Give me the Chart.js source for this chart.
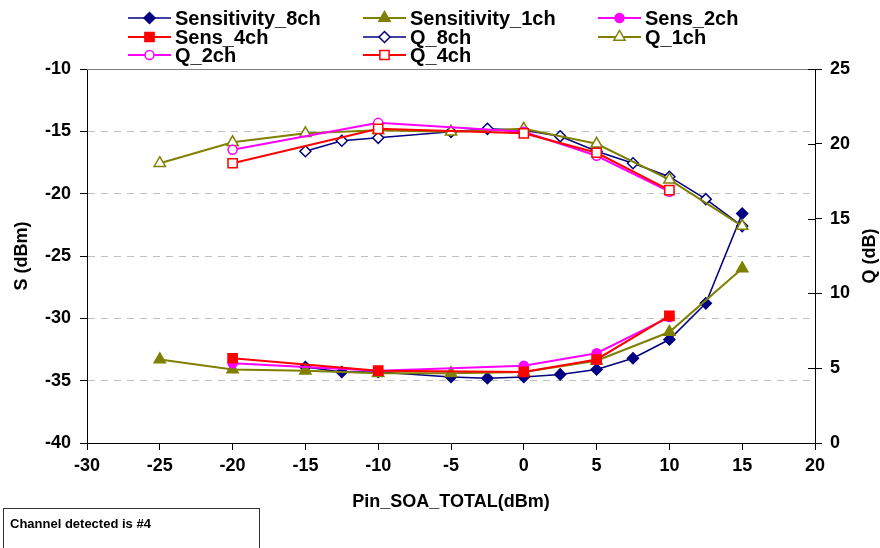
<!DOCTYPE html>
<html>
<head>
<meta charset="utf-8">
<script src="https://cdn.jsdelivr.net/npm/chart.js@4/dist/chart.umd.min.js"></script>
<style>
body { margin: 0; background: #fff; }
#wrap { position: relative; width: 880px; height: 548px; overflow: hidden; }
#note {
  position: absolute; left: 3px; top: 508px; width: 257px; height: 50px;
  border: 1px solid #333; box-sizing: border-box; padding: 7px 0 0 6px;
  font: bold 13px "Liberation Sans", Arial, sans-serif; line-height: 15px;
}
</style>
</head>
<body>
<div id="wrap">
  <canvas id="chart" width="880" height="548"></canvas>
  <div id="note">Channel detected is #4</div>
</div>
<script>
// values
var x8ch = [-15, -12.5, -10, -5, -2.5, 0, 2.5, 5, 7.5, 10, 12.5, 15];
var x1ch = [-25, -20, -15, -10, -5, 0, 5, 10, 15];
var x2ch = [-20, -10, 0, 5, 10];
var x4ch = [-20, -10, 0, 5, 10];

var sens8ch = [-33.9, -34.3, -34.3, -34.7, -34.8, -34.7, -34.5, -34.1, -33.2, -31.7, -28.8, -21.6];
var sens1ch = [-33.3, -34.1, -34.2, -34.4, -34.4, -34.3, -33.4, -31.1, -26.0];
var sens2ch = [-33.6, -34.2, -33.8, -32.8, -29.9];
var sens4ch = [-33.2, -34.2, -34.3, -33.3, -29.8];

var q8ch = [19.5, 20.2, 20.4, 20.8, 21.0, 20.9, 20.5, 19.5, 18.7, 17.8, 16.3, 14.5];
var q1ch = [18.7, 20.1, 20.7, 20.9, 20.8, 21.0, 20.0, 17.6, 14.5];
var q2ch = [19.6, 21.4, 20.8, 19.2, 16.8];
var q4ch = [18.7, 21.0, 20.7, 19.4, 16.9];

var xTicks = [-30, -25, -20, -15, -10, -5, 0, 5, 10, 15, 20];
var sTicks = [-40, -35, -30, -25, -20, -15, -10];
var qTicks = [0, 5, 10, 15, 20, 25];

var FONT = '"Liberation Sans", Arial, sans-serif';
var NAVY = '#000080', OLIVE = '#808000', MAGENTA = '#FF00FF', RED = '#FF0000';

function series(label, xs, ys, axis, color, style, filled, radius, width, order) {
  return {
    label: label,
    data: xs.map(function(x, i) { return {x: x, y: ys[i]}; }),
    yAxisID: axis,
    borderColor: color,
    backgroundColor: filled ? color : '#fff',
    borderWidth: width,
    pointStyle: style,
    pointRadius: radius,
    pointBorderWidth: 1.5,
    pointBorderColor: color,
    pointBackgroundColor: filled ? color : '#fff',
    tension: 0,
    fill: false,
    order: order
  };
}

var datasets = [
  series('Sensitivity_8ch', x8ch, sens8ch, 'yS', NAVY, 'rectRot', true, 5.5, 1.5, 8),
  series('Sensitivity_1ch', x1ch, sens1ch, 'yS', OLIVE, 'triangle', true, 6.5, 2, 7),
  series('Sens_2ch', x2ch, sens2ch, 'yS', MAGENTA, 'circle', true, 4.5, 2, 6),
  series('Sens_4ch', x4ch, sens4ch, 'yS', RED, 'rect', true, 6.5, 2, 5),
  series('Q_8ch', x8ch, q8ch, 'yQ', NAVY, 'rectRot', false, 5.5, 1.5, 4),
  series('Q_1ch', x1ch, q1ch, 'yQ', OLIVE, 'triangle', false, 6.5, 2, 3),
  series('Q_2ch', x2ch, q2ch, 'yQ', MAGENTA, 'circle', false, 4.5, 2, 2),
  series('Q_4ch', x4ch, q4ch, 'yQ', RED, 'rect', false, 6.5, 2, 1)
];

function marker(ctx, style, x, y, r) {
  ctx.beginPath();
  if (style === 'rectRot') {
    ctx.moveTo(x, y - r); ctx.lineTo(x + r, y); ctx.lineTo(x, y + r); ctx.lineTo(x - r, y);
  } else if (style === 'triangle') {
    ctx.moveTo(x, y - r);
    ctx.lineTo(x + r * 0.866, y + r * 0.5);
    ctx.lineTo(x - r * 0.866, y + r * 0.5);
  } else if (style === 'rect') {
    var s = r * Math.SQRT1_2;
    ctx.rect(x - s, y - s, 2 * s, 2 * s);
  } else {
    ctx.arc(x, y, r, 0, Math.PI * 2);
  }
  ctx.closePath();
  ctx.fill();
  ctx.stroke();
}

var legendCols = [128, 363, 598];
var legendRows = [18, 37, 55];

var extras = {
  id: 'extras',
  beforeDatasetsDraw: function(chart) {
    var ctx = chart.ctx, a = chart.chartArea;
    ctx.save();
    ctx.strokeStyle = '#808080';
    ctx.lineWidth = 1;
    ctx.beginPath();
    ctx.moveTo(a.left, a.top + 0.5);
    ctx.lineTo(a.right, a.top + 0.5);
    ctx.stroke();
    // right axis ticks cross the axis line
    ctx.strokeStyle = '#000';
    qTicks.forEach(function(v) {
      var y = Math.round(chart.scales.yQ.getPixelForValue(v)) + 0.5;
      ctx.beginPath();
      ctx.moveTo(a.right - 7, y);
      ctx.lineTo(a.right, y);
      ctx.stroke();
    });
    ctx.restore();
  },
  afterDraw: function(chart) {
    var ctx = chart.ctx, a = chart.chartArea;
    ctx.save();
    // legend
    chart.data.datasets.forEach(function(ds, i) {
      var x = legendCols[i % 3], y = legendRows[Math.floor(i / 3)];
      ctx.strokeStyle = ds.borderColor;
      ctx.lineWidth = ds.borderWidth;
      ctx.beginPath();
      ctx.moveTo(x, y);
      ctx.lineTo(x + 43, y);
      ctx.stroke();
      ctx.fillStyle = ds.pointBackgroundColor;
      ctx.lineWidth = 1.5;
      marker(ctx, ds.pointStyle, x + 21.5, y, ds.pointRadius);
      ctx.fillStyle = '#000';
      ctx.font = 'bold 20px ' + FONT;
      ctx.textBaseline = 'middle';
      ctx.textAlign = 'left';
      ctx.fillText(ds.label, x + 47, y + 1);
    });
    // right axis title, reads bottom to top
    ctx.translate(870, (a.top + a.bottom) / 2);
    ctx.rotate(-Math.PI / 2);
    ctx.font = 'bold 18px ' + FONT;
    ctx.textAlign = 'center';
    ctx.textBaseline = 'middle';
    ctx.fillStyle = '#000';
    ctx.fillText('Q (dB)', 0, 0);
    ctx.restore();
  }
};

new Chart(document.getElementById('chart'), {
  type: 'line',
  data: { datasets: datasets },
  plugins: [extras],
  options: {
    responsive: false,
    animation: false,
    devicePixelRatio: 1,
    layout: { padding: { top: 69, left: 0, right: 0, bottom: 0 } },
    plugins: { legend: { display: false }, tooltip: { enabled: false } },
    scales: {
      x: {
        type: 'linear',
        min: -30, max: 20,
        afterFit: function(s) { s.height = 105; },
        afterBuildTicks: function(s) { s.ticks = xTicks.map(function(v) { return {value: v}; }); },
        ticks: { color: '#000', font: { family: FONT, size: 18, weight: 'bold' }, padding: 5, maxRotation: 0 },
        grid: { drawOnChartArea: false, tickLength: 7, tickColor: '#000' },
        border: { color: '#000', width: 1 },
        title: { display: true, text: 'Pin_SOA_TOTAL(dBm)', color: '#000',
                 font: { family: FONT, size: 18, weight: 'bold' }, padding: { top: 0, bottom: 35 } }
      },
      yS: {
        position: 'left',
        min: -40, max: -10,
        afterFit: function(s) { s.width = 87; },
        afterBuildTicks: function(s) { s.ticks = sTicks.map(function(v) { return {value: v}; }); },
        ticks: { color: '#000', font: { family: FONT, size: 18, weight: 'bold' }, padding: 9 },
        grid: {
          tickLength: 7, tickColor: '#000',
          color: function(c) { return (c.tick && (c.tick.value === -10 || c.tick.value === -40)) ? 'rgba(0,0,0,0)' : '#C0C0C0'; }
        },
        border: { color: '#000', width: 1, dash: [7, 6] },
        title: { display: true, text: 'S (dBm)', color: '#000',
                 font: { family: FONT, size: 18, weight: 'bold' }, padding: { top: 11, bottom: 0 } }
      },
      yQ: {
        position: 'right',
        min: 0, max: 25,
        afterFit: function(s) { s.width = 65; },
        afterBuildTicks: function(s) { s.ticks = qTicks.map(function(v) { return {value: v}; }); },
        ticks: { color: '#000', font: { family: FONT, size: 18, weight: 'bold' }, padding: 8 },
        grid: { drawOnChartArea: false, tickLength: 7, tickColor: '#000' },
        border: { color: '#000', width: 1 }
      }
    }
  }
});
</script>
</body>
</html>
